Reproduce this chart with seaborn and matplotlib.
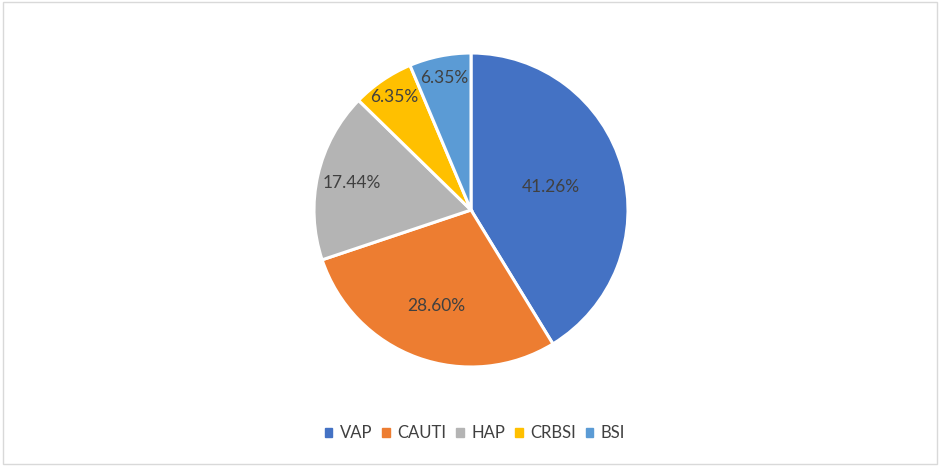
import numpy as np
import matplotlib
matplotlib.use("Agg")
import matplotlib.pyplot as plt
from matplotlib.patches import Patch, Rectangle
import seaborn as sns

categories = ["VAP", "CAUTI", "HAP", "CRBSI", "BSI"]
values = [41.26, 28.60, 17.44, 6.35, 6.35]
pct_labels = ["41.26%", "28.60%", "17.44%", "6.35%", "6.35%"]
colors = ["#4472C4", "#ED7D31", "#B4B4B4", "#FFC000", "#5B9BD5"]
label_radius = [0.53, 0.65, 0.78, 0.87, 0.855]

sns.set_theme(style="white")
plt.rcParams['font.family'] = ['Lato', 'DejaVu Sans']
palette = sns.color_palette(colors)

fig = plt.figure(figsize=(9.4, 4.66), dpi=100)
fig.patch.set_facecolor("white")
fig.add_artist(Rectangle((0.003, 0.005), 0.994, 0.99, transform=fig.transFigure,
                         fill=False, edgecolor="#D9D9D9", linewidth=1))

r_px = 157
cx, cy = 471, 466 - 210
ax = fig.add_axes([(cx - r_px) / 940, (cy - r_px) / 466, 2 * r_px / 940, 2 * r_px / 466])
wedges, _ = ax.pie(values, colors=palette, startangle=90, counterclock=False,
                   radius=1, wedgeprops=dict(edgecolor="white", linewidth=2.2))
ax.set_xlim(-1, 1)
ax.set_ylim(-1, 1)
ax.set_aspect("equal")
ax.axis("off")

for w, lab, rf in zip(wedges, pct_labels, label_radius):
    mid = np.deg2rad((w.theta1 + w.theta2) / 2)
    ax.text(rf * np.cos(mid), rf * np.sin(mid), lab, ha="center", va="center",
            fontsize=12.5, color="#404040")

handles = [Patch(facecolor=c, edgecolor=c) for c in palette]
fig.legend(handles, categories, loc="center", bbox_to_anchor=(475 / 940, 1 - 433 / 466),
           ncol=5, frameon=False, fontsize=12, handlelength=0.45, handleheight=0.45,
           handletextpad=0.45, columnspacing=0.6, labelcolor="#404040")

fig.savefig("out.png", dpi=100, facecolor="white")
